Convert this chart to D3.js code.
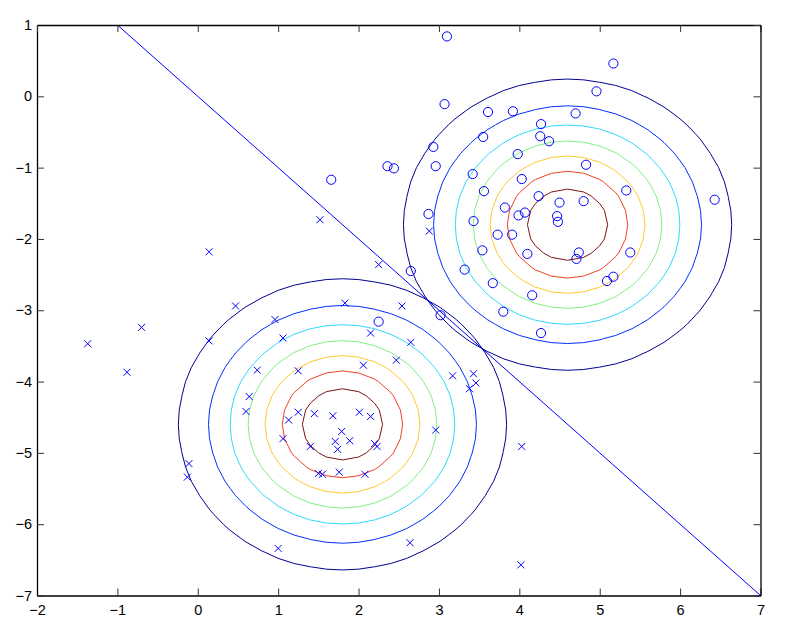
<!DOCTYPE html>
<html>
<head>
<meta charset="utf-8">
<script src="https://cdn.jsdelivr.net/npm/d3@7"></script>
<style>
  body { margin: 0; background: #fff; }
  svg { display: block; font-family: "Liberation Sans", Arial, Helvetica, sans-serif; }
</style>
</head>
<body>
<svg width="794" height="638"></svg>
<script>
// class "x" samples
const crossX = [0.14, 1.52, 2.25, 0.47, 1.83, 2.88, 2.54, -1.37, -0.70, -0.88,
  0.14, 0.96, 1.06, 0.74, 1.25, 0.64, 0.60, 1.13, 1.25, 1.45,
  1.68, 2.01, 2.15, 2.06, 2.15, 2.47, 1.79, 1.71, 1.89, 1.74,
  1.40, 1.06, 2.20, 2.23, 1.50, 1.55, 1.76, 2.08, -0.11, -0.13,
  1.00, 2.65, 3.17, 3.43, 3.46, 3.38, 2.96, 4.03, 2.64, 4.02];
const crossY = [-2.18, -1.73, -2.36, -2.94, -2.90, -1.89, -2.94, -3.47, -3.24, -3.87,
  -3.43, -3.13, -3.39, -3.84, -3.85, -4.21, -4.42, -4.54, -4.43, -4.45,
  -4.48, -4.43, -4.49, -3.77, -3.32, -3.70, -4.70, -4.84, -4.83, -4.95,
  -4.91, -4.80, -4.87, -4.91, -5.29, -5.30, -5.27, -5.30, -5.15, -5.34,
  -6.34, -3.45, -3.92, -3.89, -4.02, -4.10, -4.68, -4.91, -6.26, -6.57];

// class "o" samples
const circleX = [3.10, 5.17, 4.96, 3.07, 3.61, 3.92, 4.70, 4.27, 4.26, 4.37,
  3.55, 2.93, 2.96, 3.98, 4.83, 3.42, 4.03, 3.56, 5.33, 6.43,
  4.24, 4.50, 4.80, 3.82, 2.87, 3.99, 4.07, 4.47, 4.48, 3.43,
  3.73, 3.91, 3.54, 4.10, 4.74, 4.71, 5.38, 3.32, 3.67, 4.16,
  5.09, 5.17, 2.65, 3.80, 3.02, 4.27, 2.25, 1.66, 2.36, 2.44];
const circleY = [0.84, 0.46, 0.07, -0.11, -0.22, -0.21, -0.24, -0.39, -0.56, -0.63,
  -0.57, -0.71, -0.98, -0.81, -0.96, -1.09, -1.16, -1.33, -1.32, -1.45,
  -1.40, -1.49, -1.47, -1.56, -1.65, -1.67, -1.63, -1.68, -1.76, -1.75,
  -1.94, -1.94, -2.16, -2.21, -2.19, -2.28, -2.19, -2.43, -2.62, -2.79,
  -2.59, -2.53, -2.45, -3.02, -3.07, -3.32, -3.16, -1.17, -0.98, -1.01];

// fitted gaussians (unit variance) and contour levels
const meanX = [1.8, 4.6];
const meanY = [-4.6, -1.8];
const variance = 1;
const levels = [0.02, 0.04, 0.06, 0.08, 0.10, 0.12, 0.14];
const levelColors = ["#00008f", "#0030ff", "#30d8ff", "#80ee80", "#ffc830", "#f04020", "#801010"];

// decision boundary end points
const boundaryX = [-1, 7];
const boundaryY = [1, -7];

const xTicks = [-2, -1, 0, 1, 2, 3, 4, 5, 6, 7];
const yTicks = [-7, -6, -5, -4, -3, -2, -1, 0, 1];

const svg = d3.select('svg');
const padL = 37, padR = 760.5, padT = 25, padB = 595.5;

const x = d3.scaleLinear().domain([-2, 7]).range([padL, padR]);
const y = d3.scaleLinear().domain([-7, 1]).range([padB, padT]);

svg.append('clipPath').attr('id', 'plot')
  .append('rect').attr('x', padL).attr('y', padT)
  .attr('width', padR - padL).attr('height', padB - padT);

const plot = svg.append('g').attr('clip-path', 'url(#plot)');

// density grid for each gaussian, then contour it
const step = 0.2;
const nx = Math.round(9 / step) + 1;
const ny = Math.round(8 / step) + 1;
const gridPath = d3.geoPath(d3.geoTransform({
  point: function(c, r) {
    this.stream.point(x(-2 + (c - 0.5) * step), y(1 - (r - 0.5) * step));
  }
}));

meanX.forEach((mx, k) => {
  const my = meanY[k];
  const values = new Array(nx * ny);
  for (let j = 0; j < ny; j++) {
    for (let i = 0; i < nx; i++) {
      const gx = -2 + i * step, gy = 1 - j * step;
      const d2 = ((gx - mx) ** 2 + (gy - my) ** 2) / variance;
      values[j * nx + i] = Math.exp(-d2 / 2) / (2 * Math.PI * variance);
    }
  }
  const rings = d3.contours().size([nx, ny]).thresholds(levels)(values);
  plot.selectAll(null).data(rings).enter().append('path')
    .attr('d', gridPath)
    .attr('fill', 'none')
    .attr('stroke', d => levelColors[levels.indexOf(d.value)])
    .attr('stroke-width', 1);
});

// crosses
const s = 3.5;
plot.selectAll('.cross').data(crossX).enter().append('path')
  .attr('class', 'cross')
  .attr('d', (d, i) => {
    const px = x(d), py = y(crossY[i]);
    return `M${px - s},${py - s}L${px + s},${py + s}M${px - s},${py + s}L${px + s},${py - s}`;
  })
  .attr('stroke', '#0000ff')
  .attr('stroke-width', 1)
  .attr('fill', 'none');

// circles
plot.selectAll('.circ').data(circleX).enter().append('circle')
  .attr('class', 'circ')
  .attr('cx', d => x(d))
  .attr('cy', (d, i) => y(circleY[i]))
  .attr('r', 4.6)
  .attr('stroke', '#0000ff')
  .attr('stroke-width', 1)
  .attr('fill', 'none');

// boundary
plot.append('path')
  .datum(boundaryX.map((d, i) => [d, boundaryY[i]]))
  .attr('d', d3.line().x(d => x(d[0])).y(d => y(d[1])))
  .attr('stroke', '#0000ff')
  .attr('stroke-width', 1)
  .attr('fill', 'none');

// axes, ticks pointing inward
const fmt = d3.format('');
svg.append('g').attr('transform', `translate(0,${padB})`)
  .call(d3.axisBottom(x).tickValues(xTicks).tickFormat(fmt).tickSizeInner(-7).tickSizeOuter(0).tickPadding(9.5));
svg.append('g').attr('transform', `translate(${padL},0)`)
  .call(d3.axisLeft(y).tickValues(yTicks).tickFormat(fmt).tickSizeInner(-7).tickSizeOuter(0).tickPadding(5));
svg.append('g').attr('transform', `translate(0,${padT})`)
  .call(d3.axisTop(x).tickValues(xTicks).tickFormat('').tickSizeInner(-7).tickSizeOuter(0));
svg.append('g').attr('transform', `translate(${padR},0)`)
  .call(d3.axisRight(y).tickValues(yTicks).tickFormat('').tickSizeInner(-7).tickSizeOuter(0));

svg.selectAll('.tick text').attr('font-size', 14.5).attr('fill', '#000')
  .attr('font-family', '"Liberation Sans", Arial, Helvetica, sans-serif');
svg.selectAll('.tick line').attr('stroke', '#333');
svg.selectAll('.domain').attr('stroke', '#000').attr('stroke-width', 1.3);
</script>
</body>
</html>
